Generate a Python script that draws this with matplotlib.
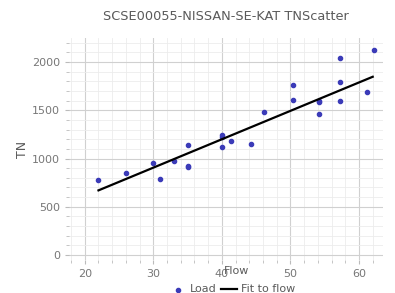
import matplotlib
matplotlib.use('Agg')
import matplotlib.pyplot as plt
from matplotlib.ticker import MultipleLocator

# Scatter data
flow = [22, 26, 30, 31, 33, 35, 35, 35, 40, 40, 40, 41.3, 44.2, 46.2,
        50.3, 50.3, 54.2, 54.2, 54.2, 57.3, 57.3, 57.3, 61.2, 62.2]
load = [777, 847, 950, 784, 977, 1140, 922, 910, 1243, 1225, 1119, 1181, 1150, 1482,
        1762, 1606, 1600, 1585, 1461, 2041, 1793, 1596, 1689, 2124]

# Fit line end points
fit_x = [22, 62]
fit_y = [670, 1848]

title = 'SCSE00055-NISSAN-SE-KAT TNScatter'
grey = '#5a5a5a'

fig = plt.figure(figsize=(3.95, 2.93), dpi=100)
ax = fig.add_axes([69/395, 1-260/293, (383-69)/395, (260-38)/293])

ax.scatter(flow, load, s=9, color='#3b3bb8', label='Load', zorder=3)
ax.plot(fit_x, fit_y, color='black', lw=1.6, label='Fit to flow', zorder=4)

ax.set_xlim(17.7, 63.5)
ax.set_ylim(-52, 2250)
ax.xaxis.set_major_locator(MultipleLocator(10))
ax.xaxis.set_minor_locator(MultipleLocator(2))
ax.yaxis.set_major_locator(MultipleLocator(500))
ax.yaxis.set_minor_locator(MultipleLocator(100))
ax.grid(which='major', color='#d0d0d0', lw=0.8)
ax.grid(which='minor', color='#ececec', lw=0.6)
ax.set_axisbelow(True)
for s in ['top', 'right', 'bottom', 'left']:
    ax.spines[s].set_visible(False)
ax.tick_params(which='both', colors='#bbbbbb', labelcolor='#777777', labelsize=8, length=3)
ax.tick_params(which='minor', length=2)

ax.set_title(title, fontsize=9.3, color=grey, pad=13)
ax.set_ylabel('TN', fontsize=9, color=grey, labelpad=2)
ax.set_xlabel('Flow', fontsize=8, color=grey)
ax.xaxis.set_label_coords(0.535, -0.025)
ax.legend(loc='upper center', bbox_to_anchor=(0.52, -0.085), ncol=2, frameon=False,
          fontsize=8, labelcolor=grey, handlelength=1.5, handletextpad=0.3,
          columnspacing=0.4, borderpad=0)

fig.savefig('out.png', dpi=100)
